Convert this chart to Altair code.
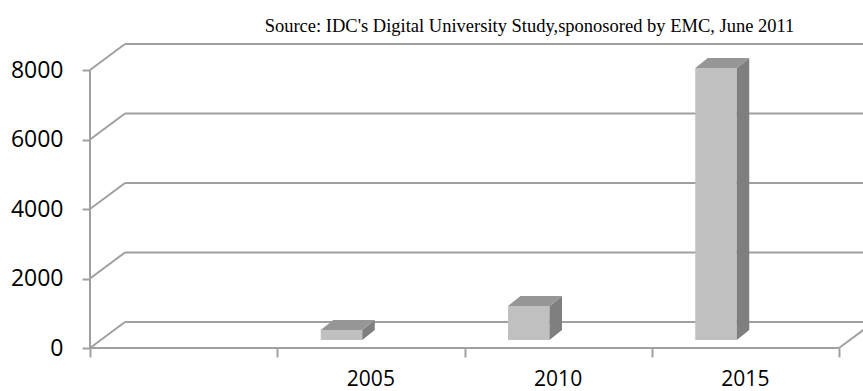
import altair as alt
import pandas as pd

# ---- data ----
years = ["2005", "2010", "2015"]
values = [290, 980, 7830]
y_ticks = [0, 2000, 4000, 6000, 8000]
title_text = "Source: IDC's Digital University Study,sponosored by EMC, June 2011"

# ---- geometry (3D look) ----
W, H = 773, 308
SLOT_PX = 187.25                  # px per category slot
UNITS_PER_PX = 8000 / 278.0       # value units per px
XMAX = W / SLOT_PX
YMAX = H * UNITS_PER_PX
N_SLOTS = 4
FLOOR_DX = 35 / SLOT_PX
FLOOR_DY = 26 * UNITS_PER_PX
BAR_LEFT = 43.5 / SLOT_PX
BAR_W = 41.5 / SLOT_PX
BAR_BASE = 8 * UNITS_PER_PX
BAR_DX = 12.5 / SLOT_PX
BAR_DY = 10 * UNITS_PER_PX
LINE = "#a0a0a0"

xs = alt.Scale(domain=[0, XMAX], nice=False, zero=False)
ys = alt.Scale(domain=[0, YMAX], nice=False, zero=False)
xaxis = alt.Axis(values=list(range(N_SLOTS + 1)), labels=False, domain=False, grid=False,
                 tickSize=9, tickColor=LINE, tickWidth=2, title=None)
yaxis = alt.Axis(values=y_ticks, format="d", domain=False, grid=False, tickSize=8, tickColor=LINE,
                 tickWidth=2, labelFont="Open Sans", labelFontSize=23, labelColor="black",
                 labelPadding=19, title=None)

def X(f="x"):
    return alt.X(f + ":Q", scale=xs, axis=xaxis)

def Y(f="y"):
    return alt.Y(f + ":Q", scale=ys, axis=yaxis, stack=None)

# gridlines / walls
segs = []
for v in y_ticks:
    segs.append(dict(x=0, x2=FLOOR_DX, y=v, y2=v + FLOOR_DY))
    segs.append(dict(x=FLOOR_DX, x2=N_SLOTS + FLOOR_DX, y=v + FLOOR_DY, y2=v + FLOOR_DY))
segs.append(dict(x=0, x2=0, y=0, y2=y_ticks[-1]))
segs.append(dict(x=0, x2=N_SLOTS, y=0, y2=0))
segs.append(dict(x=N_SLOTS, x2=N_SLOTS + FLOOR_DX, y=0, y2=FLOOR_DY))
seg_df = pd.DataFrame(segs)

grid = alt.Chart(seg_df).mark_rule(color=LINE, strokeWidth=2).encode(
    x=X(), x2="x2:Q", y=Y(), y2="y2:Q")

front, side, top = [], [], []
for i, (yr, v) in enumerate(zip(years, values)):
    s = i + 1
    xl = s + BAR_LEFT
    xr = xl + BAR_W
    front.append(dict(x=xl, x2=xr, y=BAR_BASE, y2=BAR_BASE + v))
    side.append(dict(id=yr, x=xr, y=BAR_BASE + v, y2=BAR_BASE))
    side.append(dict(id=yr, x=xr + BAR_DX, y=BAR_BASE + v + BAR_DY, y2=BAR_BASE + BAR_DY))
    top.append(dict(id=yr, y=BAR_BASE + v, x=xl, x2=xr))
    top.append(dict(id=yr, y=BAR_BASE + v + BAR_DY, x=xl + BAR_DX, x2=xr + BAR_DX))

front_l = alt.Chart(pd.DataFrame(front)).mark_rect(color="#c0c0c0").encode(
    x=X(), x2="x2:Q", y=Y(), y2="y2:Q")
side_l = alt.Chart(pd.DataFrame(side)).mark_area(color="#7f7f7f", orient="vertical", opacity=1).encode(
    x=X(), y=Y(), y2="y2:Q", detail="id:N")
top_l = alt.Chart(pd.DataFrame(top)).mark_area(color="#969696", orient="horizontal", opacity=1).encode(
    y=Y(), x=X(), x2="x2:Q", detail="id:N")

lab_df = pd.DataFrame(dict(x=[i + 1.5 for i in range(len(years))],
                           y=[-32 * UNITS_PER_PX] * len(years), t=years))
labels = alt.Chart(lab_df).mark_text(font="Open Sans", fontSize=21, color="black",
                                     baseline="middle", align="center").encode(
    x=X(), y=Y(), text="t:N")

chart = alt.layer(grid, front_l, side_l, top_l, labels).properties(
    width=W, height=H,
    autosize=alt.AutoSizeParams(type="none"),
    padding={"left": 90, "top": 40, "right": 0, "bottom": 43},
    background="white",
    title=alt.TitleParams(title_text, font="Liberation Serif", fontSize=18.5, fontWeight="normal",
                          color="black", anchor="middle", dx=53, offset=5),
).configure_view(stroke=None)

chart.save("out.html", embed_options={"renderer": "svg", "actions": False})
